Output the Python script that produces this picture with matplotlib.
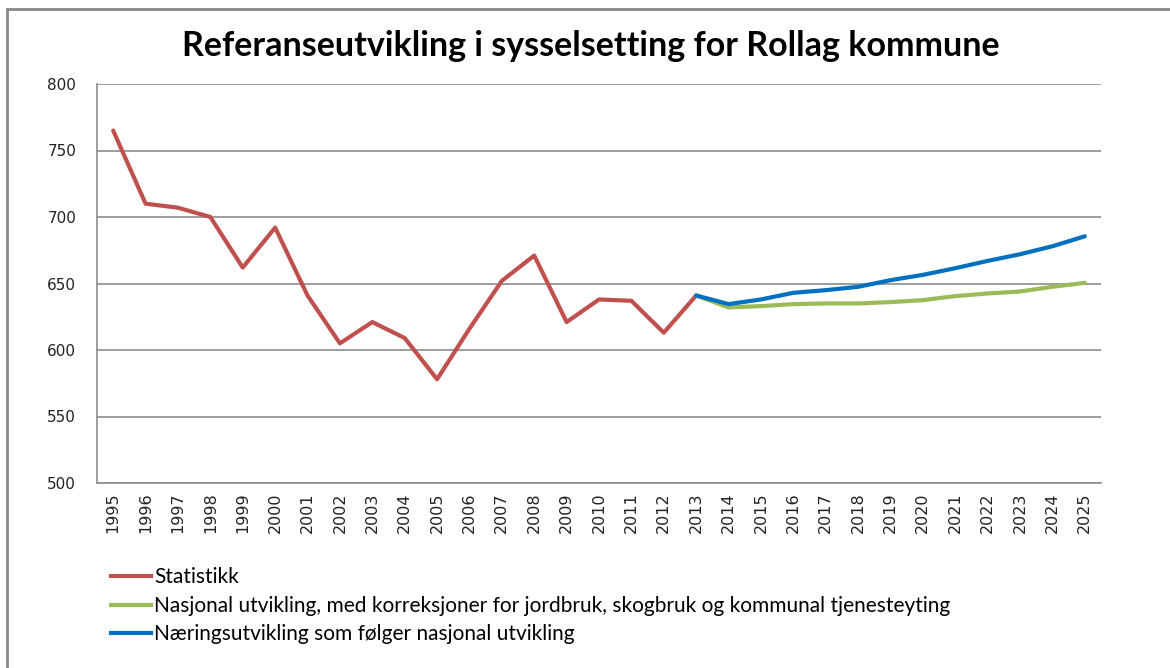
import matplotlib
matplotlib.use("Agg")
import matplotlib.pyplot as plt
from matplotlib.lines import Line2D
from matplotlib import font_manager as fm

plt.rcParams["font.family"] = ["DejaVu Sans"]
dv_path = fm.findfont(fm.FontProperties(family="DejaVu Sans"))

years = [str(y) for y in range(1995, 2026)]

statistikk = [765, 710, 707, 700, 662, 692, 641, 605, 621, 609, 578, 616, 652, 671,
              621, 638, 637, 613, 641]
# projections start in 2013
nasjonal = [641, 632, 633, 634.5, 635, 635, 636, 637.5, 640.5, 642.5, 644, 647.5, 650.5]
naering = [641, 634.5, 638, 643, 645, 647.5, 652.5, 656.5, 661.5, 667, 672, 678, 685.5]

labels = ["Statistikk",
          "Nasjonal utvikling, med korreksjoner for jordbruk, skogbruk og kommunal tjenesteyting",
          "Næringsutvikling som følger nasjonal utvikling"]
colors = ["#C0504D", "#9BBB59", "#0070C0"]

W, H = 1170, 668
fig = plt.figure(figsize=(W / 100, H / 100), dpi=100)
ax = fig.add_axes([97 / W, 1 - 483 / H, (1101 - 97) / W, (483 - 84) / H])

x_stat = list(range(len(statistikk)))
start = len(statistikk) - 1
x_proj = list(range(start, start + len(nasjonal)))

kw = dict(lw=3, solid_capstyle="round", solid_joinstyle="round")
ax.plot(x_stat, statistikk, color=colors[0], zorder=3, **kw)
ax.plot(x_proj, nasjonal, color=colors[1], zorder=3, **kw)
ax.plot(x_proj, naering, color=colors[2], zorder=4, **kw)

ax.set_xlim(-0.5, len(years) - 0.5)
ax.set_ylim(500, 800)
yt = list(range(500, 801, 50))
ax.set_yticks(yt)
ax.set_yticklabels([str(v) for v in yt], fontproperties=fm.FontProperties(fname=dv_path, size=11))
ax.set_xticks(range(len(years)))
ax.set_xticklabels(years, rotation=90, fontproperties=fm.FontProperties(fname=dv_path, size=11.5))
ax.tick_params(axis="both", length=0, colors="#222222")
ax.tick_params(axis="y", pad=15)
ax.tick_params(axis="x", pad=7)

ax.grid(axis="y", color="#8c8c8c", lw=1.2)
ax.set_axisbelow(True)
for s in ["top", "right"]:
    ax.spines[s].set_visible(False)
for s in ["left", "bottom"]:
    ax.spines[s].set_color("#8c8c8c")
    ax.spines[s].set_linewidth(1.2)

fig.text(591 / W, 1 - 46 / H, "Referanseutvikling i sysselsetting for Rollag kommune",
         ha="center", va="center", fontsize=24.5, fontweight="bold",
         family=["Lato", "DejaVu Sans"])

# legend
handles = [Line2D([0], [0], color=c, lw=3) for c in colors]
leg = fig.legend(handles, labels, loc="upper left", bbox_to_anchor=(103 / W, 1 - 559 / H),
                 frameon=False, handlelength=1.92, handletextpad=0.15, labelspacing=0.41,
                 borderaxespad=0.0,
                 prop={"family": ["Lato", "DejaVu Sans"], "size": 15})

# outer chart frame (left and top edges)
fig.add_artist(Line2D([7 / W, 7 / W], [0, 1 - 9 / H], color="#888888", lw=2, transform=fig.transFigure))
fig.add_artist(Line2D([7 / W, 1], [1 - 9 / H, 1 - 9 / H], color="#888888", lw=2, transform=fig.transFigure))

fig.savefig("out.png", dpi=100)
